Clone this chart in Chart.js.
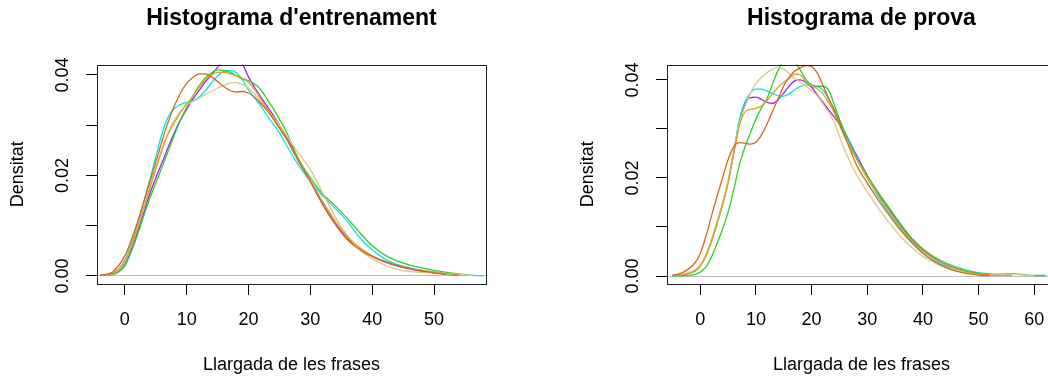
<!DOCTYPE html>
<html>
<head>
<meta charset="utf-8">
<script src="https://cdn.jsdelivr.net/npm/chart.js@4.4.1/dist/chart.umd.min.js"></script>
<style>
html, body { margin: 0; padding: 0; background: #fff; overflow: hidden; }
#wrap { position: relative; width: 1100px; height: 377px; }
canvas { position: absolute; top: 0; }
#train { left: 0; }
#test { left: 570px; }
</style>
</head>
<body>
<div id="wrap">
<canvas id="train" width="524" height="377"></canvas>
<canvas id="test" width="524" height="377"></canvas>
</div>
<script>
// colours of the six density curves (same order in both panels)
const curveColors = ['#d2691e', '#daa520', '#d8c98c', '#32cd32', '#00e5ee', '#a020f0'];
const yTickLabels = ['0.00', '0.02', '0.04'];

// training set: sentence length grid and densities
const trainX = [-4, -2, 0, 1, 2, 3, 4, 5, 6, 7, 8, 9, 10, 11, 12, 13, 14, 15, 16, 17, 18, 19, 20,
  21, 22, 23, 24, 25, 26, 28, 30, 32, 34, 36, 38, 40, 42, 44, 46, 48, 50, 52, 54, 56, 58];
const train1 = [0.0001, 0.0008, 0.0040, 0.0070, 0.0105, 0.0145, 0.0185, 0.0226, 0.0268, 0.0306, 0.0338, 0.0364, 0.0383,
  0.0395, 0.0402, 0.0402, 0.0396, 0.0387, 0.0377, 0.0369, 0.0366, 0.0367, 0.0364, 0.0355, 0.0343, 0.0329, 0.0312, 0.0294,
  0.0275, 0.0230, 0.0188, 0.0142, 0.0103, 0.0072, 0.0052, 0.0039, 0.0029, 0.0021, 0.0015, 0.0010, 0.0006, 0.0003, null, null, null];
const train2 = [0.0001, 0.0005, 0.0028, 0.0058, 0.0094, 0.0133, 0.0172, 0.0212, 0.0250, 0.0283, 0.0305, 0.0325, 0.0342,
  0.0358, 0.0375, 0.0390, 0.0400, 0.0405, 0.0405, 0.0402, 0.0398, 0.0392, 0.0385, 0.0370, 0.0352, 0.0334, 0.0316, 0.0296,
  0.0276, 0.0232, 0.0190, 0.0148, 0.0110, 0.0078, 0.0056, 0.0040, 0.0029, 0.0021, 0.0015, 0.0011, 0.0008, 0.0005, 0.0002, null, null];
const train3 = [0.0001, 0.0005, 0.0030, 0.0060, 0.0096, 0.0135, 0.0175, 0.0215, 0.0253, 0.0285, 0.0310, 0.0328, 0.0340,
  0.0347, 0.0353, 0.0361, 0.0368, 0.0374, 0.0379, 0.0384, 0.0385, 0.0381, 0.0374, 0.0362, 0.0347, 0.0332, 0.0317, 0.0300,
  0.0282, 0.0245, 0.0212, 0.0165, 0.0118, 0.0080, 0.0052, 0.0034, 0.0022, 0.0013, 0.0009, 0.0007, 0.0006, 0.0004, 0.0003, 0.0001, null];
const train4 = [0.0001, 0.0003, 0.0020, 0.0047, 0.0080, 0.0117, 0.0153, 0.0185, 0.0216, 0.0248, 0.0280, 0.0310, 0.0335,
  0.0358, 0.0378, 0.0394, 0.0404, 0.0410, 0.0409, 0.0405, 0.0399, 0.0393, 0.0388, 0.0382, 0.0370, 0.0352, 0.0333, 0.0312,
  0.0290, 0.0235, 0.0195, 0.0163, 0.0140, 0.0114, 0.0086, 0.0060, 0.0042, 0.0030, 0.0022, 0.0016, 0.0011, 0.0007, 0.0004, 0.0001, null];
const train5 = [0.0001, 0.0005, 0.0032, 0.0064, 0.0102, 0.0145, 0.0190, 0.0236, 0.0283, 0.0316, 0.0333, 0.0341, 0.0345,
  0.0348, 0.0356, 0.0368, 0.0384, 0.0398, 0.0407, 0.0409, 0.0405, 0.0390, 0.0370, 0.0354, 0.0338, 0.0319, 0.0302, 0.0285,
  0.0263, 0.0222, 0.0188, 0.0159, 0.0135, 0.0108, 0.0076, 0.0052, 0.0034, 0.0023, 0.0016, 0.0011, 0.0007, 0.0004, 0.0002, 0.0001, 0.0000];
const train6 = [0.0001, 0.0003, 0.0022, 0.0050, 0.0085, 0.0123, 0.0162, 0.0195, 0.0225, 0.0256, 0.0285, 0.0310, 0.0332,
  0.0352, 0.0369, 0.0386, 0.0400, 0.0415, 0.0430, 0.0437, 0.0435, 0.0422, 0.0396, 0.0375, 0.0356, 0.0338, 0.0320, 0.0300,
  0.0280, 0.0233, 0.0188, 0.0143, 0.0105, 0.0074, 0.0053, 0.0039, 0.0028, 0.0020, 0.0014, 0.0009, 0.0006, 0.0003, 0.0001, null, null];

// test set
const testX = [-5, -3, -1, 0, 1, 2, 3, 4, 5, 6, 7, 8, 9, 10, 11, 12, 13, 14, 15, 16, 17, 18, 19, 20,
  21, 22, 23, 24, 25, 26, 28, 30, 32, 34, 36, 38, 40, 42, 44, 46, 48, 50, 52, 54, 56, 58, 60, 62];
const test1 = [0.0001, 0.0008, 0.0026, 0.0046, 0.0080, 0.0122, 0.0162, 0.0200, 0.0237, 0.0263, 0.0272, 0.0271, 0.0269,
  0.0273, 0.0288, 0.0310, 0.0336, 0.0362, 0.0388, 0.0406, 0.0418, 0.0425, 0.0429, 0.0427, 0.0415, 0.0390, 0.0364, 0.0340,
  0.0313, 0.0285, 0.0228, 0.0190, 0.0155, 0.0123, 0.0093, 0.0068, 0.0047, 0.0030, 0.0018, 0.0010, 0.0005, 0.0002, 0.0001,
  null, null, null, null, null];
const test2 = [0.0001, 0.0003, 0.0010, 0.0020, 0.0040, 0.0070, 0.0106, 0.0145, 0.0190, 0.0250, 0.0305, 0.0334, 0.0340,
  0.0342, 0.0347, 0.0358, 0.0372, 0.0385, 0.0395, 0.0403, 0.0412, 0.0410, 0.0396, 0.0388, 0.0382, 0.0372, 0.0355, 0.0335,
  0.0308, 0.0282, 0.0240, 0.0200, 0.0165, 0.0132, 0.0100, 0.0072, 0.0051, 0.0035, 0.0023, 0.0014, 0.0008, 0.0004, 0.0002,
  0.0001, null, null, null, null];
const test3 = [0.0001, 0.0004, 0.0012, 0.0023, 0.0044, 0.0073, 0.0110, 0.0150, 0.0196, 0.0255, 0.0310, 0.0345, 0.0372,
  0.0393, 0.0405, 0.0415, 0.0422, 0.0426, 0.0422, 0.0413, 0.0403, 0.0395, 0.0387, 0.0378, 0.0368, 0.0352, 0.0334, 0.0315,
  0.0285, 0.0255, 0.0208, 0.0172, 0.0138, 0.0108, 0.0080, 0.0058, 0.0040, 0.0027, 0.0017, 0.0010, 0.0006, 0.0004, 0.0003,
  0.0003, 0.0004, 0.0002, 0.0001, null];
const test4 = [0.0000, 0.0001, 0.0003, 0.0008, 0.0018, 0.0038, 0.0066, 0.0095, 0.0130, 0.0175, 0.0225, 0.0262, 0.0292,
  0.0320, 0.0343, 0.0362, 0.0392, 0.0420, 0.0438, 0.0443, 0.0437, 0.0420, 0.0400, 0.0390, 0.0387, 0.0387, 0.0380, 0.0352,
  0.0320, 0.0293, 0.0242, 0.0205, 0.0170, 0.0138, 0.0106, 0.0077, 0.0055, 0.0039, 0.0027, 0.0018, 0.0011, 0.0006, 0.0004,
  0.0004, 0.0005, 0.0003, 0.0001, 0.0001];
const test5 = [0.0001, 0.0003, 0.0010, 0.0021, 0.0042, 0.0071, 0.0107, 0.0147, 0.0193, 0.0253, 0.0318, 0.0355, 0.0373,
  0.0381, 0.0381, 0.0377, 0.0372, 0.0368, 0.0367, 0.0372, 0.0380, 0.0387, 0.0390, 0.0389, 0.0386, 0.0380, 0.0362, 0.0342,
  0.0318, 0.0292, 0.0245, 0.0200, 0.0162, 0.0127, 0.0096, 0.0068, 0.0046, 0.0031, 0.0021, 0.0014, 0.0010, 0.0007, 0.0004,
  0.0002, 0.0001, null, null, null];
const test6 = [0.0001, 0.0003, 0.0010, 0.0021, 0.0042, 0.0071, 0.0106, 0.0146, 0.0191, 0.0250, 0.0310, 0.0350, 0.0364,
  0.0365, 0.0360, 0.0354, 0.0352, 0.0360, 0.0373, 0.0388, 0.0398, 0.0400, 0.0395, 0.0385, 0.0370, 0.0355, 0.0340, 0.0325,
  0.0310, 0.0292, 0.0248, 0.0205, 0.0168, 0.0135, 0.0103, 0.0075, 0.0053, 0.0036, 0.0024, 0.0015, 0.0009, 0.0005, 0.0003,
  0.0001, null, null, null, null];

Chart.defaults.font.family = '"Liberation Sans", Arial, sans-serif';
Chart.defaults.font.size = 18;
Chart.defaults.color = '#000';

// R style box around the plot region
const plotBox = {
  id: 'plotBox',
  afterDraw(chart) {
    const {ctx, chartArea: a} = chart;
    ctx.save();
    ctx.strokeStyle = '#222';
    ctx.lineWidth = 1;
    ctx.strokeRect(Math.round(a.left) + 0.5, Math.round(a.top) + 0.5,
      Math.round(a.right - a.left), Math.round(a.bottom - a.top));
    ctx.restore();
  }
};

function setupChart(canvasId, title, xs, seriesList, xMin, xMax, yMin, yMax) {
  const datasets = seriesList.map((ys, i) => ({
    data: xs.map((x, j) => ({x: x, y: ys[j]})),
    borderColor: curveColors[i],
    borderWidth: 1.3,
    pointRadius: 0,
    fill: false,
    cubicInterpolationMode: 'monotone'
  }));
  return new Chart(document.getElementById(canvasId), {
    type: 'line',
    data: { datasets: datasets },
    plugins: [plotBox],
    options: {
      responsive: false,
      animation: false,
      events: [],
      layout: { padding: { left: 0, right: 38, top: 0, bottom: 0 } },
      scales: {
        x: {
          type: 'linear', min: xMin, max: xMax,
          afterFit: (s) => { s.height = 93; },
          border: { display: false },
          grid: { drawOnChartArea: false, tickLength: 11, tickColor: '#000' },
          ticks: { stepSize: 10, includeBounds: false, autoSkip: false, padding: 14, maxRotation: 0,
            callback: (v) => (v % 10 === 0 ? String(v) : '') },
          title: { display: true, text: 'Llargada de les frases', padding: { top: 0, bottom: 1 } }
        },
        y: {
          type: 'linear', min: yMin, max: yMax,
          afterFit: (s) => { s.width = 97; },
          border: { display: false },
          grid: {
            tickLength: 11, tickColor: '#000',
            color: (c) => (c.tick && c.tick.value === 0 ? '#bebebe' : 'rgba(0,0,0,0)')
          },
          ticks: {
            stepSize: 0.01, includeBounds: false, autoSkip: false,
            minRotation: 90, maxRotation: 90, crossAlign: 'center', padding: 5,
            callback: (v) => (yTickLabels.includes(v.toFixed(2)) && Math.round(v * 100) % 2 === 0 ? v.toFixed(2) : '')
          },
          title: { display: true, text: 'Densitat', padding: { top: 7, bottom: 0 } }
        }
      },
      plugins: {
        legend: { display: false },
        tooltip: { enabled: false },
        title: {
          display: true, text: title, fullSize: false, color: '#000',
          font: { size: 23, weight: 'bold' },
          padding: { top: 5, bottom: 32 }
        }
      }
    }
  });
}

setupChart('train', "Histograma d'entrenament", trainX,
  [train1, train2, train3, train4, train5, train6], -4.5, 58.4, -0.0016, 0.04205);
setupChart('test', 'Histograma de prova', testX,
  [test1, test2, test3, test4, test5, test6], -5.97, 63.9, -0.00163, 0.04312);
</script>
</body>
</html>
